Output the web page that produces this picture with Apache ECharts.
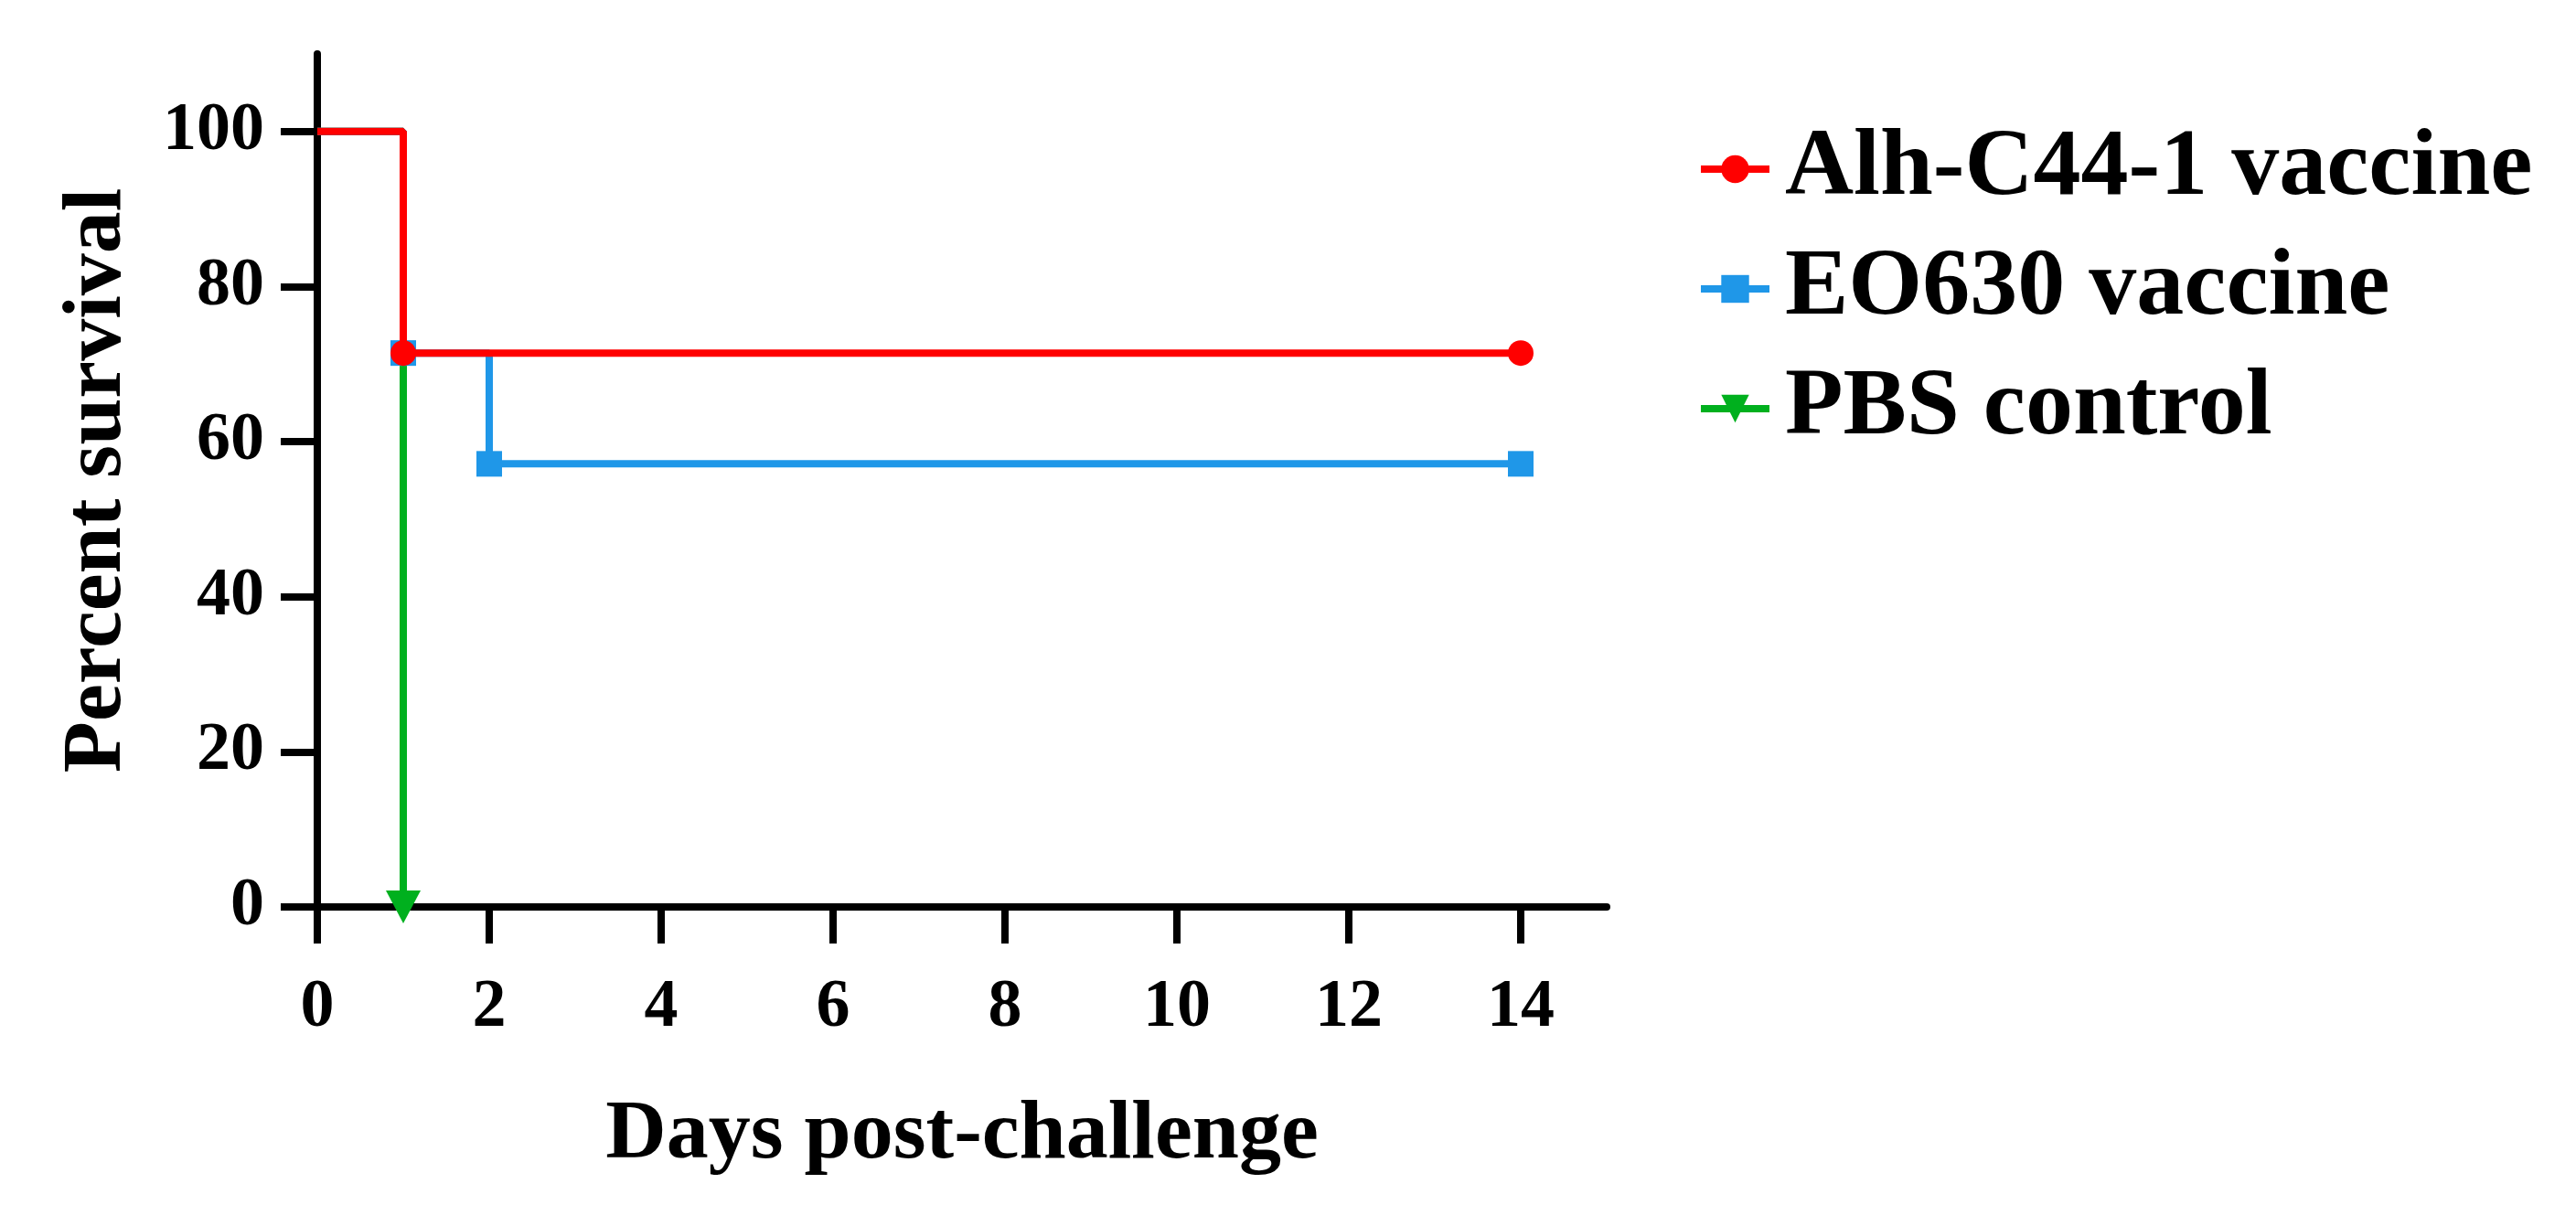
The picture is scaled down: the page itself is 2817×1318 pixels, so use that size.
<!DOCTYPE html>
<html>
<head>
<meta charset="utf-8">
<script src="https://cdn.jsdelivr.net/npm/echarts@6/dist/echarts.min.js"></script>
<style>
  html, body { margin: 0; padding: 0; background: #fff; }
  #chart { width: 2817px; height: 1318px; }
</style>
</head>
<body>
<div id="chart"></div>
<script>
// survival curves (Kaplan-Meier steps, n = 7 per group)
const groups = ['Alh-C44-1 vaccine', 'EO630 vaccine', 'PBS control'];
const alhDays = [0, 1, 14];
const alhSurvival = [100, 71.43, 71.43];
const eoDays = [0, 1, 2, 14];
const eoSurvival = [100, 71.43, 57.14, 57.14];
const pbsDays = [0, 1];
const pbsSurvival = [100, 0];

const xTicks = [0, 2, 4, 6, 8, 10, 12, 14];
const yTicks = [0, 20, 40, 60, 80, 100];

const FONT = "'Liberation Serif', 'Times New Roman', serif";

// day 0 is the starting point, no marker drawn there
function steps(days, vals) {
    return days.map((d, i) => i === 0 ? { value: [d, vals[i]], symbol: 'none' } : [d, vals[i]]);
}

function survivalSeries(name, days, vals, color, symbol, size, rotate, z) {
    return {
        name: name,
        type: 'line',
        step: 'end',
        data: steps(days, vals),
        symbol: symbol,
        symbolSize: size,
        symbolRotate: rotate,
        showSymbol: true,
        showAllSymbol: true,
        z: z,
        lineStyle: { color: color, width: 8 },
        itemStyle: { color: color },
        emphasis: { disabled: true }
    };
}

const chart = echarts.init(document.getElementById('chart'));

const axisCommon = {
    axisLine: { show: true, onZero: false, lineStyle: { color: '#000', width: 8 } },
    axisTick: { show: true, inside: false, length: 40, lineStyle: { color: '#000', width: 8 } },
    splitLine: { show: false },
    axisLabel: { color: '#000', fontFamily: FONT, fontWeight: 'bold', fontSize: 74, margin: 58 },
    nameTextStyle: { color: '#000', fontFamily: FONT, fontWeight: 'bold', fontSize: 92 }
};

chart.setOption({
    animation: false,
    backgroundColor: '#fff',
    grid: { left: 347, top: 59, width: 1410, height: 933, containLabel: false, outerBoundsMode: 'none' },
    xAxis: Object.assign({}, axisCommon, {
        type: 'value',
        min: 0,
        max: 15,
        interval: 1,
        name: 'Days post-challenge',
        nameLocation: 'middle',
        nameGap: 204,
        axisTick: Object.assign({}, axisCommon.axisTick, { customValues: xTicks }),
        axisLabel: Object.assign({}, axisCommon.axisLabel, { customValues: xTicks, margin: 74 })
    }),
    yAxis: Object.assign({}, axisCommon, {
        type: 'value',
        min: 0,
        max: 110,
        interval: 10,
        name: 'Percent survival',
        nameLocation: 'middle',
        nameGap: 194,
        axisTick: Object.assign({}, axisCommon.axisTick, { customValues: yTicks }),
        axisLabel: Object.assign({}, axisCommon.axisLabel, { customValues: yTicks })
    }),
    legend: {
        orient: 'vertical',
        left: 1856,
        top: 133,
        padding: 0,
        itemWidth: 75,
        itemHeight: 38,
        itemGap: 27,
        selectedMode: false,
        data: groups,
        lineStyle: { width: 8 },
        textStyle: { color: '#000', fontFamily: FONT, fontWeight: 'bold', fontSize: 104, padding: [0, 0, 0, 12] }
    },
    series: [
        survivalSeries(groups[2], pbsDays, pbsSurvival, '#00b01e', 'triangle', [38, 36], 180, 2),
        survivalSeries(groups[1], eoDays, eoSurvival, '#1f97e8', 'rect', 28, 0, 3),
        survivalSeries(groups[0], alhDays, alhSurvival, '#ff0000', 'circle', 28, 0, 4)
    ]
});

window.addEventListener('resize', () => chart.resize());
</script>
</body>
</html>
